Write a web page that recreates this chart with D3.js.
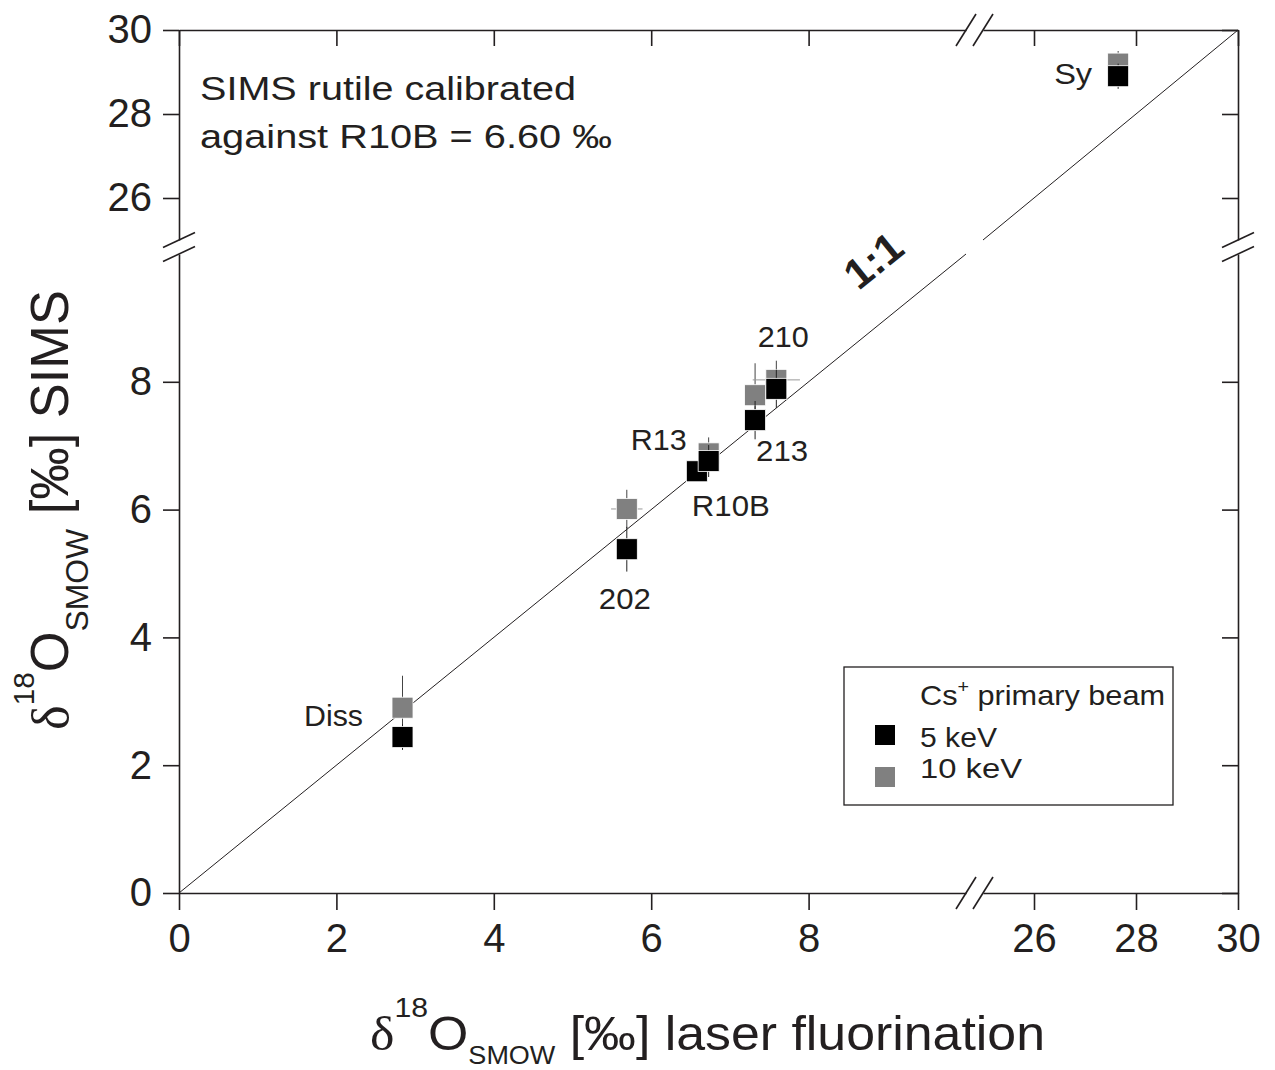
<!DOCTYPE html>
<html>
<head>
<meta charset="utf-8">
<script src="https://cdn.jsdelivr.net/npm/d3@7"></script>
<style>
  html, body { margin: 0; padding: 0; background: #fff; }
  svg { display: block; }
  text { font-family: "Liberation Sans", Arial, Helvetica, sans-serif; fill: #231f20; }
</style>
</head>
<body>
<div id="chart"></div>
<script>
// Oxygen isotope composition of rutile standards: SIMS vs laser fluorination
const samples   = ["Diss", "202", "R10B", "R13", "213", "210", "Sy"];
const laserF    = [2.84, 5.69, 6.58, 6.73, 7.32, 7.59, 27.65];
const laserErr  = [0.10, 0.20, null, 0.10, 0.10, 0.30, 0.10];   // 10 keV runs
const sims5keV  = [2.44, 5.38, 6.60, 6.76, 7.40, 7.89, 28.90];
const sims5Err  = [0.20, 0.35, 0.10, 0.25, 0.30, 0.30, 0.30];
const sims10keV = [2.90, 6.01, null, 6.88, 7.79, 8.03, 29.20];
const sims10Err = [0.50, 0.30, null, 0.25, 0.50, 0.30, 0.30];

const xTicksLow  = [0, 2, 4, 6, 8];
const xTicksHigh = [26, 28, 30];
const yTicksLow  = [0, 2, 4, 6, 8];
const yTicksHigh = [26, 28, 30];
const seriesNames = ["5 keV", "10 keV"];

const W = 1275, H = 1070;
const INK = "#231f20";
const colors = { "5 keV": "#000000", "10 keV": "#808080" };

// broken axes: 0–10 and 25–30 on both x and y
const xLo = d3.scaleLinear().domain([0, 10]).range([179, 966]);
const xHi = d3.scaleLinear().domain([25, 30]).range([983, 1238]);
const yLo = d3.scaleLinear().domain([0, 10]).range([893, 254]);
const yHi = d3.scaleLinear().domain([25, 30]).range([240, 30]);
const X = v => (v > 15 ? xHi(v) : xLo(v));
const Y = v => (v > 15 ? yHi(v) : yLo(v));
const fmt = d3.format("d");

const svg = d3.select("#chart").append("svg")
  .attr("width", W).attr("height", H);
svg.append("rect").attr("width", W).attr("height", H).attr("fill", "#fff");

// ---- axes ----
function styleAxis(g, showLabels) {
  g.selectAll("path.domain").attr("stroke", INK).attr("stroke-width", 1.6);
  g.selectAll(".tick line").attr("stroke", INK).attr("stroke-width", 1.6);
  g.selectAll(".tick text")
    .style("font-size", "40px")
    .style("font-family", "'Liberation Sans', Arial, sans-serif")
    .attr("fill", INK);
  if (!showLabels) g.selectAll(".tick text").remove();
}

const yBot = yLo(0), yTop = yHi(30), xLeft = xLo(0), xRight = xHi(30);

[[xLo, xTicksLow], [xHi, xTicksHigh]].forEach(([s, t]) => {
  svg.append("g").attr("transform", `translate(0,${yBot})`)
    .call(d3.axisBottom(s).tickValues(t).tickFormat(fmt)
      .tickSizeInner(17).tickSizeOuter(0).tickPadding(14))
    .call(g => styleAxis(g, true));
  svg.append("g").attr("transform", `translate(0,${yTop})`)
    .call(d3.axisTop(s).tickValues(t).tickSizeInner(-16).tickSizeOuter(0))
    .call(g => styleAxis(g, false));
});
[[yLo, yTicksLow], [yHi, yTicksHigh]].forEach(([s, t]) => {
  svg.append("g").attr("transform", `translate(${xLeft},0)`)
    .call(d3.axisLeft(s).tickValues(t).tickFormat(fmt)
      .tickSizeInner(16).tickSizeOuter(0).tickPadding(11))
    .call(g => styleAxis(g, true));
  svg.append("g").attr("transform", `translate(${xRight},0)`)
    .call(d3.axisRight(s).tickValues(t).tickSizeInner(-16).tickSizeOuter(0))
    .call(g => styleAxis(g, false));
});

// break marks (double slashes)
const breaks = svg.append("g").attr("stroke", INK).attr("stroke-width", 1.6);
[xLo(10), xHi(25)].forEach(cx => {
  [yBot, yTop].forEach(cy => {
    breaks.append("line")
      .attr("x1", cx - 10).attr("y1", cy + 16).attr("x2", cx + 10).attr("y2", cy - 16);
  });
});
[yLo(10), yHi(25)].forEach(cy => {
  [xLeft, xRight].forEach(cx => {
    breaks.append("line")
      .attr("x1", cx - 16).attr("y1", cy + 7.5).attr("x2", cx + 16).attr("y2", cy - 7.5);
  });
});

// ---- 1:1 reference line (two pieces across the break) ----
const refLine = svg.append("g").attr("stroke", INK).attr("stroke-width", 1);
refLine.append("line").attr("x1", xLo(0)).attr("y1", yLo(0)).attr("x2", xLo(10)).attr("y2", yLo(10));
refLine.append("line").attr("x1", xHi(25)).attr("y1", yHi(25)).attr("x2", xHi(30)).attr("y2", yHi(30));

const slopeDeg = Math.atan2(yLo(0) - yLo(10), xLo(10) - xLo(0)) * 180 / Math.PI;
svg.append("text")
  .attr("transform", `translate(873,260) rotate(${-slopeDeg})`)
  .attr("text-anchor", "middle").attr("dy", "0.36em")
  .attr("textLength", 62).attr("lengthAdjust", "spacingAndGlyphs")
  .style("font-size", "42px").style("font-weight", "bold").text("1:1");

// ---- data ----
const rows = samples.map((s, i) => ({
  name: s, x: laserF[i], xe: laserErr[i],
  y5: sims5keV[i], e5: sims5Err[i], y10: sims10keV[i], e10: sims10Err[i]
}));

const SQ = 21;
const marks = svg.append("g");

// 10 keV first, 5 keV on top
const pts10 = rows.filter(d => d.y10 != null);
marks.selectAll("line.ey10").data(pts10).join("line").attr("class", "ey10")
  .attr("x1", d => X(d.x)).attr("x2", d => X(d.x))
  .attr("y1", d => Y(d.y10 - d.e10)).attr("y2", d => Y(d.y10 + d.e10))
  .attr("stroke", "#444").attr("stroke-width", 1);
marks.selectAll("line.ex10").data(pts10.filter(d => d.xe != null)).join("line").attr("class", "ex10")
  .attr("x1", d => X(d.x - d.xe)).attr("x2", d => X(d.x + d.xe))
  .attr("y1", d => Y(d.y10)).attr("y2", d => Y(d.y10))
  .attr("stroke", "#999").attr("stroke-width", 1);
marks.selectAll("rect.p10").data(pts10).join("rect").attr("class", "p10")
  .attr("x", d => X(d.x) - SQ / 2).attr("y", d => Y(d.y10) - SQ / 2)
  .attr("width", SQ).attr("height", SQ)
  .attr("fill", colors["10 keV"]).attr("stroke", "#fff").attr("stroke-width", 0.8);

marks.selectAll("line.ey5").data(rows).join("line").attr("class", "ey5")
  .attr("x1", d => X(d.x)).attr("x2", d => X(d.x))
  .attr("y1", d => Y(d.y5 - d.e5)).attr("y2", d => Y(d.y5 + d.e5))
  .attr("stroke", "#222").attr("stroke-width", 1);
marks.selectAll("rect.p5").data(rows).join("rect").attr("class", "p5")
  .attr("x", d => X(d.x) - SQ / 2).attr("y", d => Y(d.y5) - SQ / 2)
  .attr("width", SQ).attr("height", SQ)
  .attr("fill", colors["5 keV"]).attr("stroke", "#fff").attr("stroke-width", 0.8);

// sample labels, placed relative to each 5 keV point
const labelOffset = {
  "Diss": [-69, -11, 59], "202": [-2, 60, 52], "R10B": [34, 45, 78], "R13": [-50, -11, 56],
  "213": [27, 41, 52], "210": [7, -42, 51], "Sy": [-45, 7.5, 38]
};
svg.append("g").selectAll("text").data(rows).join("text")
  .attr("x", d => X(d.x) + labelOffset[d.name][0])
  .attr("y", d => Y(d.y5) + labelOffset[d.name][1])
  .attr("text-anchor", "middle")
  .attr("textLength", d => labelOffset[d.name][2]).attr("lengthAdjust", "spacingAndGlyphs")
  .style("font-size", "30px").text(d => d.name);

// ---- annotation ----
svg.append("text").attr("x", 200).attr("y", 100)
  .attr("textLength", 376).attr("lengthAdjust", "spacingAndGlyphs")
  .style("font-size", "33px").text("SIMS rutile calibrated");
svg.append("text").attr("x", 200).attr("y", 148)
  .attr("textLength", 412).attr("lengthAdjust", "spacingAndGlyphs")
  .style("font-size", "33px").text("against R10B = 6.60 ‰");

// ---- legend ----
const lg = svg.append("g");
lg.append("rect").attr("x", 844).attr("y", 667).attr("width", 329).attr("height", 138)
  .attr("fill", "#fff").attr("stroke", INK).attr("stroke-width", 1.3);
const head = lg.append("text").attr("x", 920).attr("y", 705)
  .attr("textLength", 245).attr("lengthAdjust", "spacingAndGlyphs")
  .style("font-size", "28px");
head.append("tspan").text("Cs");
head.append("tspan").attr("dy", -12).style("font-size", "18px").text("+");
head.append("tspan").attr("dy", 12).text(" primary beam");
const legRows = [
  { name: seriesNames[0], sq: 735, base: 747, len: 77 },
  { name: seriesNames[1], sq: 777, base: 778, len: 102 }
];
legRows.forEach(r => {
  lg.append("rect").attr("x", 875).attr("y", r.sq - 10).attr("width", 20).attr("height", 20)
    .attr("fill", colors[r.name]);
  lg.append("text").attr("x", 920).attr("y", r.base)
    .attr("textLength", r.len).attr("lengthAdjust", "spacingAndGlyphs")
    .style("font-size", "28px").text(r.name);
});

// ---- axis titles ----
const xt = svg.append("text").attr("x", 370).attr("y", 1050)
  .attr("textLength", 675).attr("lengthAdjust", "spacingAndGlyphs")
  .style("font-size", "48px");
xt.append("tspan").style("font-family", "'Liberation Serif', 'Times New Roman', serif").text("δ");
xt.append("tspan").attr("dy", -33).style("font-size", "28px").text("18");
xt.append("tspan").attr("dy", 33).text("O");
xt.append("tspan").attr("dy", 14).style("font-size", "25px").text("SMOW");
xt.append("tspan").attr("dy", -14).text(" [‰] laser fluorination");

const yt = svg.append("text")
  .attr("transform", "translate(68,510) scale(1.15,1) rotate(-90)")
  .attr("text-anchor", "middle")
  .attr("textLength", 440).attr("lengthAdjust", "spacingAndGlyphs")
  .style("font-size", "46px");
yt.append("tspan").style("font-family", "'Liberation Serif', 'Times New Roman', serif").text("δ");
yt.append("tspan").attr("dy", -30).style("font-size", "26px").text("18");
yt.append("tspan").attr("dy", 30).text("O");
yt.append("tspan").attr("dy", 17).style("font-size", "28px").text("SMOW");
yt.append("tspan").attr("dy", -17).text(" [‰] SIMS");
</script>
</body>
</html>
